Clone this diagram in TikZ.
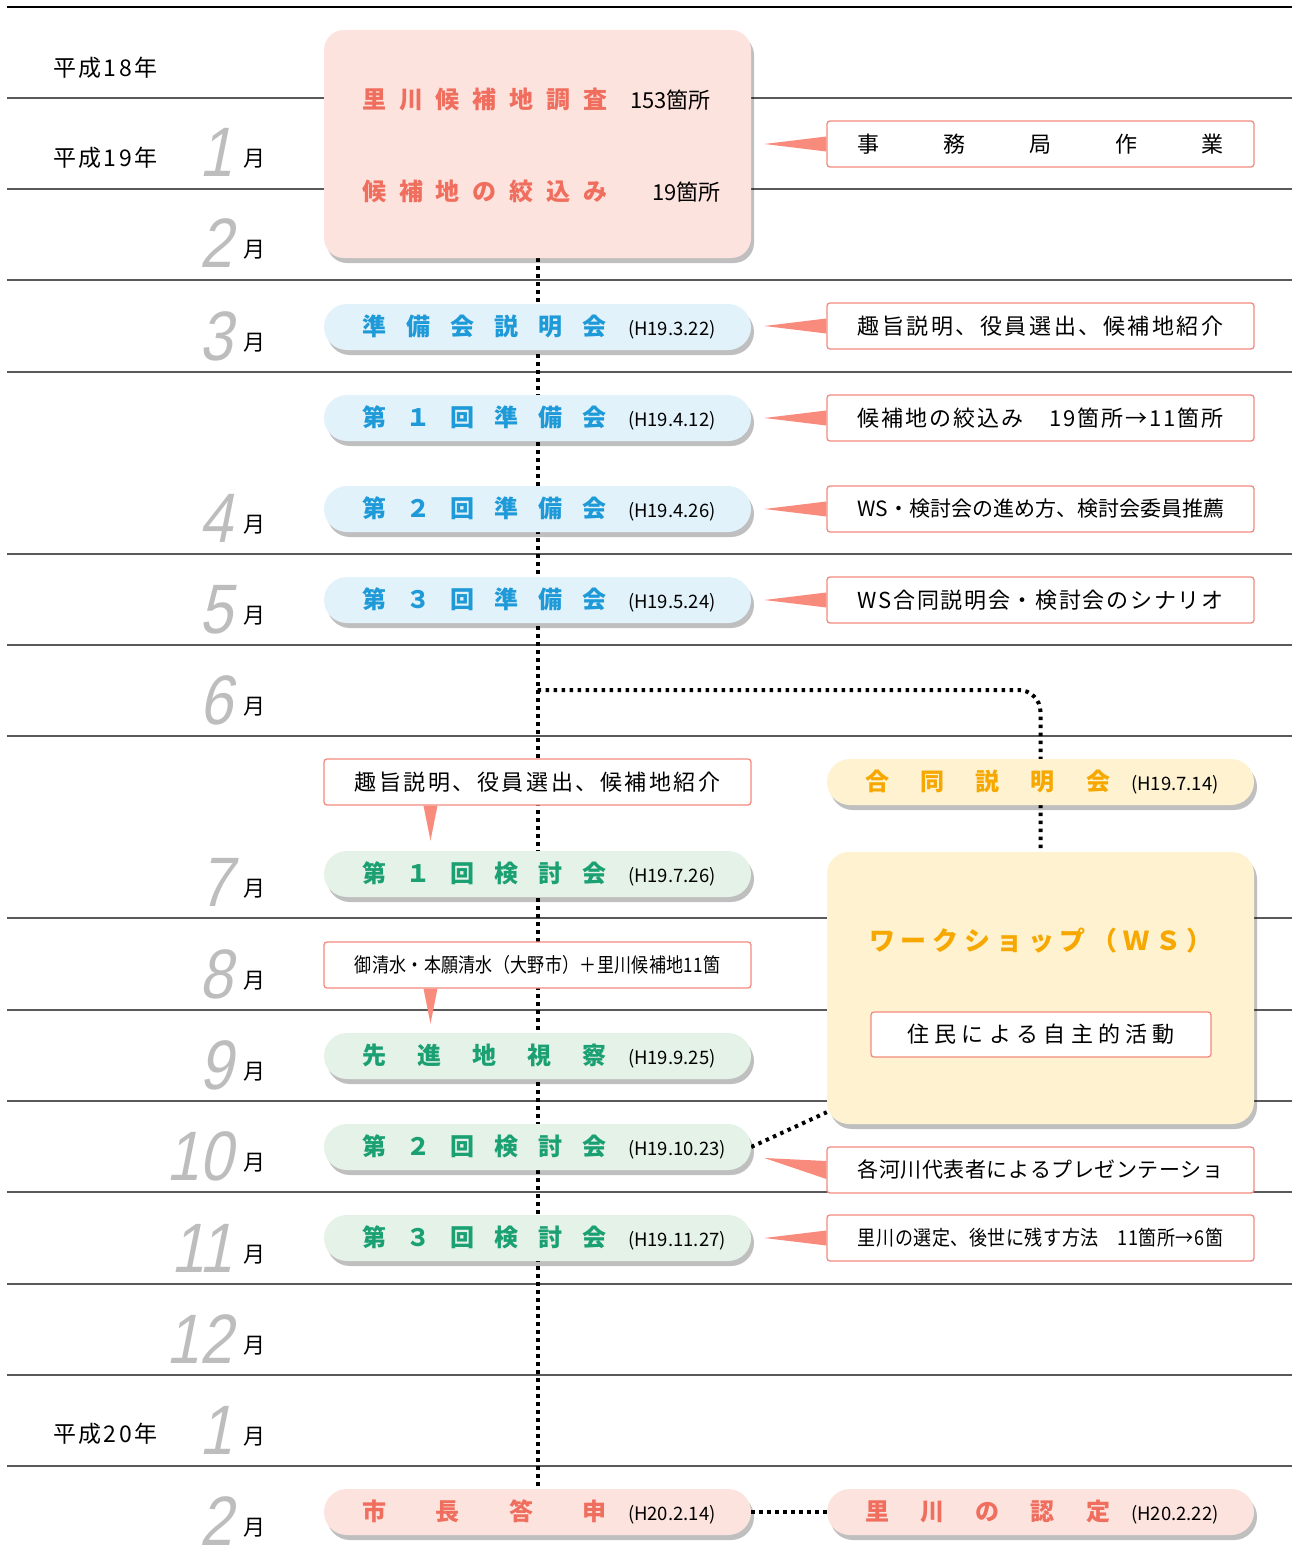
\documentclass[tikz,border=0pt]{standalone}
\usepackage{fontspec}
\setmainfont{Noto Sans CJK JP}
\newfontfamily\numfont[FakeSlant=0.2,FakeStretch=0.85]{Liberation Sans}
\usetikzlibrary{shadows,backgrounds}

\definecolor{pinkfill}{HTML}{FDE3DE}
\definecolor{pinktext}{HTML}{F06E5E}
\definecolor{bluefill}{HTML}{E2F2FB}
\definecolor{bluetext}{HTML}{1E9AD8}
\definecolor{greenfill}{HTML}{E5F2E7}
\definecolor{greentext}{HTML}{1BA073}
\definecolor{yellowfill}{HTML}{FEF2D0}
\definecolor{orangetext}{HTML}{F7A800}
\definecolor{calloutline}{HTML}{F28A7E}
\definecolor{pointerfill}{HTML}{F98B7C}
\definecolor{monthgray}{HTML}{BDBDBD}

\ExplSyntaxOn
\cs_new_protected:Npn \spread_chars:nn #1#2
  {
    \hbox_to_wd:nn {#1}
      {
        \bool_set_false:N \l_tmpa_bool
        \tl_map_inline:nn {#2}
          {
            \bool_if:NT \l_tmpa_bool { \hfill }
            \bool_set_true:N \l_tmpa_bool
            ##1
          }
      }
  }
\cs_set_eq:NN \spreadtext \spread_chars:nn
\ExplSyntaxOff
\newcommand\fitline[2]{\hbox to #1{\hfil#2\hfil}}
\newcommand\pilltext[2]{\hbox to 427pt{\hskip38pt{\fontsize{24}{28}\selectfont\bfseries\spreadtext{245pt}{#1}}\hskip21pt{\color{black}\fontsize{18.5}{22}\selectfont#2}\hss}}

\begin{document}
\begin{tikzpicture}[x=1pt,y=-1pt,
  rule/.style={line width=1.4pt,black!65},
  dotline/.style={line width=4pt,dash pattern=on 3.5pt off 4.5pt},
  shade/.style={drop shadow={shadow xshift=3pt,shadow yshift=-5pt,fill=black,opacity=0.25}},
  pill/.style={shade,rounded corners=23pt,minimum height=46pt,inner sep=0pt},
  bluepill/.style={pill,fill=bluefill,text=bluetext},
  greenpill/.style={pill,fill=greenfill,text=greentext},
  pinkpill/.style={pill,fill=pinkfill,text=pinktext},
  yellowpill/.style={pill,fill=yellowfill,text=orangetext},
  bigbox/.style={shade,minimum width=427pt,inner sep=0pt},
  callout/.style={draw=calloutline,line width=1.3pt,fill=white,rounded corners=3pt,minimum width=427pt,minimum height=46pt,inner sep=0pt},
  pointer/.style={fill=pointerfill},
  yearlabel/.style={inner sep=0pt,anchor=base west,font=\fontsize{23}{26}\selectfont}]
\useasboundingbox (0,0) rectangle (1296,1554);

\node[yearlabel] (h18) at (53,77) {\spreadtext{104pt}{平成18年}};
\node[yearlabel] (h19) at (53,167) {\spreadtext{104pt}{平成19年}};
\node[yearlabel] (h20) at (53,1442) {\spreadtext{104pt}{平成20年}};

\foreach \m/\yb in {1/189,2/280,3/372,4/554,5/645,6/736,7/918,8/1010,9/1101,10/1192,11/1284,12/1375,1/1466,2/1557} {
\node[inner sep=0pt,anchor=base east,text depth=0pt,text=monthgray,font=\numfont\fontsize{70}{70}\selectfont] (num\yb) at (233,\yb-12) {\m};
\node[inner sep=0pt,anchor=base west,font=\fontsize{22}{24}\selectfont] (mon\yb) at (243,\yb-22) {月};
}

\node[bigbox,fill=pinkfill,rounded corners=20pt,minimum height=228pt] (survey) at (537.5,144) {};
\node[inner sep=0pt,anchor=west,text=pinktext] (surveyline) at (362,100) {{\fontsize{24}{28}\selectfont\bfseries\spreadtext{245pt}{里川候補地調査}}\hskip23pt{\color{black}\fontsize{22}{26}\selectfont 153箇所}};
\node[inner sep=0pt,anchor=west,text=pinktext] (shortline) at (362,191) {{\fontsize{24}{28}\selectfont\bfseries\spreadtext{245pt}{候補地の絞込み}}\hskip45pt{\color{black}\fontsize{22}{26}\selectfont 19箇所}};

\node[bluepill] (prep0) at (537.5,327) {\pilltext{準備会説明会}{(H19.3.22)}};
\node[bluepill] (prep1) at (537.5,418) {\pilltext{第１回準備会}{(H19.4.12)}};
\node[bluepill] (prep2) at (537.5,509) {\pilltext{第２回準備会}{(H19.4.26)}};
\node[bluepill] (prep3) at (537.5,600) {\pilltext{第３回準備会}{(H19.5.24)}};
\node[greenpill] (kentou1) at (537.5,874) {\pilltext{第１回検討会}{(H19.7.26)}};
\node[greenpill] (visit) at (537.5,1056) {\pilltext{先進地視察}{(H19.9.25)}};
\node[greenpill] (kentou2) at (537.5,1147) {\pilltext{第２回検討会}{(H19.10.23)}};
\node[greenpill] (kentou3) at (537.5,1238) {\pilltext{第３回検討会}{(H19.11.27)}};
\node[pinkpill] (mayor) at (537.5,1512) {\pilltext{市長答申}{(H20.2.14)}};

\node[yellowpill] (goudou) at (1040.5,782) {\pilltext{合同説明会}{(H19.7.14)}};
\node[pinkpill] (nintei) at (1040.5,1512) {\pilltext{里川の認定}{(H20.2.22)}};

\node[bigbox,fill=yellowfill,rounded corners=22pt,minimum height=272pt] (ws) at (1040.5,988) {};
\node[inner sep=0pt,text=orangetext,font=\fontsize{26}{30}\selectfont\bfseries] (wstitle) at (1041,941) {\spreadtext{344pt}{ワークショップ（ＷＳ）}};
\node[callout,minimum width=340pt,minimum height=45pt,font=\fontsize{22}{26}\selectfont] (wsact) at (1041,1034.5) {\fitline{340pt}{\spreadtext{268pt}{住民による自主的活動}}};

\node[callout,font=\fontsize{22}{26}\selectfont] (office) at (1040.5,144) {\fitline{427pt}{\spreadtext{366pt}{事務局作業}}};
\node[callout,font=\fontsize{22}{26}\selectfont] (brief) at (1040.5,326) {\fitline{427pt}{\spreadtext{366pt}{趣旨説明、役員選出、候補地紹介}}};
\node[callout,font=\fontsize{22}{26}\selectfont] (count) at (1040.5,418) {\fitline{427pt}{\spreadtext{366pt}{候補地の絞込み　19箇所→11箇所}}};
\node[callout,font=\fontsize{21}{25}\selectfont] (method) at (1040.5,509) {\fitline{427pt}{\spreadtext{366pt}{WS・検討会の進め方、検討会委員推薦}}};
\node[callout,font=\fontsize{22}{26}\selectfont] (scenario) at (1040.5,600) {\fitline{427pt}{\spreadtext{366pt}{WS合同説明会・検討会のシナリオ}}};
\node[callout,font=\fontsize{21}{25}\selectfont] (present) at (1040.5,1170) {\fitline{427pt}{\spreadtext{366pt}{各河川代表者によるプレゼンテーショ}}};
\node[callout,font=\fontsize{20.5}{24}\selectfont] (select) at (1040.5,1238) {\fitline{427pt}{\scalebox{0.88}[1]{\spreadtext{415pt}{里川の選定、後世に残す方法　11箇所→6箇}}}};

\node[callout,font=\fontsize{22}{26}\selectfont] (aimnote) at (537.5,782) {\fitline{427pt}{\spreadtext{366pt}{趣旨説明、役員選出、候補地紹介}}};
\node[callout,font=\fontsize{20}{24}\selectfont] (visitnote) at (537.5,965) {\fitline{427pt}{\scalebox{0.85}[1]{\spreadtext{430pt}{御清水・本願清水（大野市）＋里川候補地11箇}}}};

\foreach \c in {office,brief,count,method,scenario,select}
\fill[pointer] ([yshift=7.5pt]\c.west) -- ([xshift=-62pt]\c.west) -- ([yshift=-7.5pt]\c.west) -- cycle;
\fill[pointer] ([yshift=9pt]present.west) -- ([xshift=-62pt,yshift=12pt]present.west) -- ([yshift=-9pt]present.west) -- cycle;
\foreach \c in {aimnote,visitnote}
\fill[pointer] ([xshift=-114pt]\c.south) -- ([xshift=-107pt,yshift=-35pt]\c.south) -- ([xshift=-100pt]\c.south) -- cycle;

\begin{pgfonlayer}{background}
\draw[line width=1.4pt] (7,7) -- (1292,7);
\foreach \y in {98,189,280,372,554,645,736,918,1010,1101,1192,1284,1375,1466}
\draw[rule] (7,\y) -- (1292,\y);
\draw[dotline] (survey.south) -- (mayor.north);
\coordinate (split) at (537.5,690);
\draw[dotline,rounded corners=22pt] (split) -| (ws.north);
\draw[dotline] (kentou2.east) -- ([yshift=12pt]ws.south west);
\draw[dotline] (mayor.east) -- (nintei.west);
\end{pgfonlayer}
\end{tikzpicture}
\end{document}
